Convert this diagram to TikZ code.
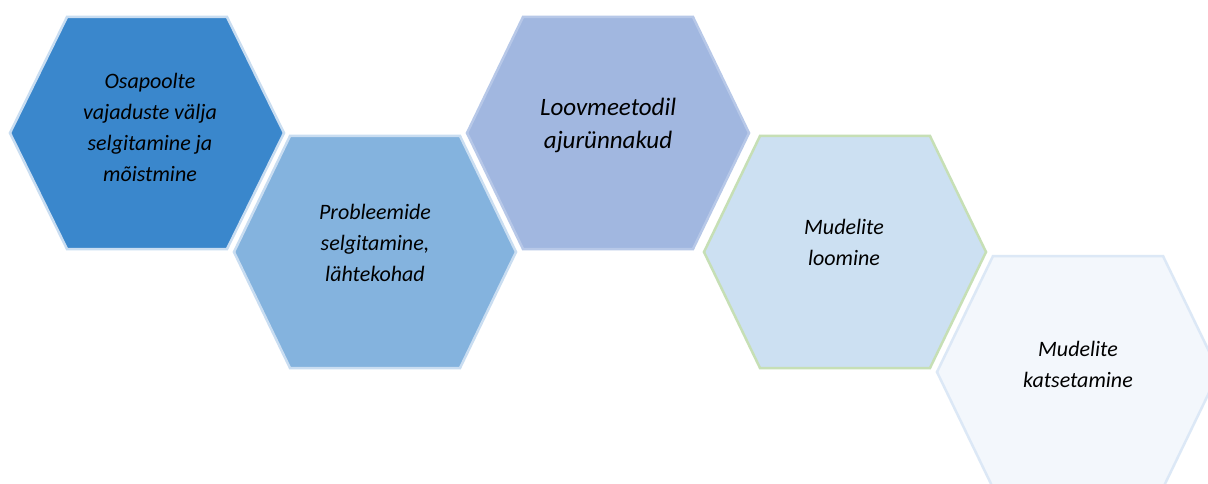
\documentclass[tikz,border=0pt]{standalone}
\usepackage{fontspec}
\setmainfont{Carlito}
\definecolor{f1}{HTML}{3A87CC}
\definecolor{f2}{HTML}{84B3DE}
\definecolor{f3}{HTML}{A1B7E0}
\definecolor{f4}{HTML}{CCE0F2}
\definecolor{f5}{HTML}{F3F7FC}
\definecolor{o1}{HTML}{C9DDF1}
\definecolor{o3}{HTML}{B7C8E8}
\definecolor{o4}{HTML}{C6DFB5}
\definecolor{o5}{HTML}{DCE8F6}
\begin{document}
\begin{tikzpicture}[x=1pt,y=-1pt,
  pics/hexa/.style={code={\path[pic actions] (-141,0) -- (-85,-116) -- (85,-116) -- (141,0) -- (85,116) -- (-85,116) -- cycle;}},
  pics/hexsmall/.style={code={\path[pic actions] (-137,0) -- (-80,-116) -- (80,-116) -- (137,0) -- (80,116) -- (-80,116) -- cycle;}},
  hexstyle/.style={line width=2.5pt, line join=miter},
  lbl/.style={align=center, font=\fontsize{22}{31}\selectfont\itshape, text=black, inner sep=0pt},
  lblbig/.style={lbl, font=\fontsize{25}{33}\selectfont\itshape}]
\useasboundingbox[fill=white] (0,0) rectangle (1208,484);
\pic[hexstyle, fill=f1, draw=o1] at (147,133) {hexsmall};
\pic[hexstyle, fill=f2, draw=o1] at (375,252) {hexa};
\pic[hexstyle, fill=f3, draw=o3] at (608,133) {hexa};
\pic[hexstyle, fill=f4, draw=o4] at (845,252) {hexa};
\pic[hexstyle, fill=f5, draw=o5] at (1078,372) {hexa};
\node[lbl] (t1) at (150,127) {Osapoolte\\vajaduste välja\\selgitamine ja\\mõistmine};
\node[lbl] (t2) at (375,243) {Probleemide\\selgitamine,\\lähtekohad};
\node[lblbig] (t3) at (608,125) {Loovmeetodil\\ajurünnakud};
\node[lbl] (t4) at (844,242) {Mudelite\\loomine};
\node[lbl] (t5) at (1078,364) {Mudelite\\katsetamine};
\end{tikzpicture}
\end{document}
